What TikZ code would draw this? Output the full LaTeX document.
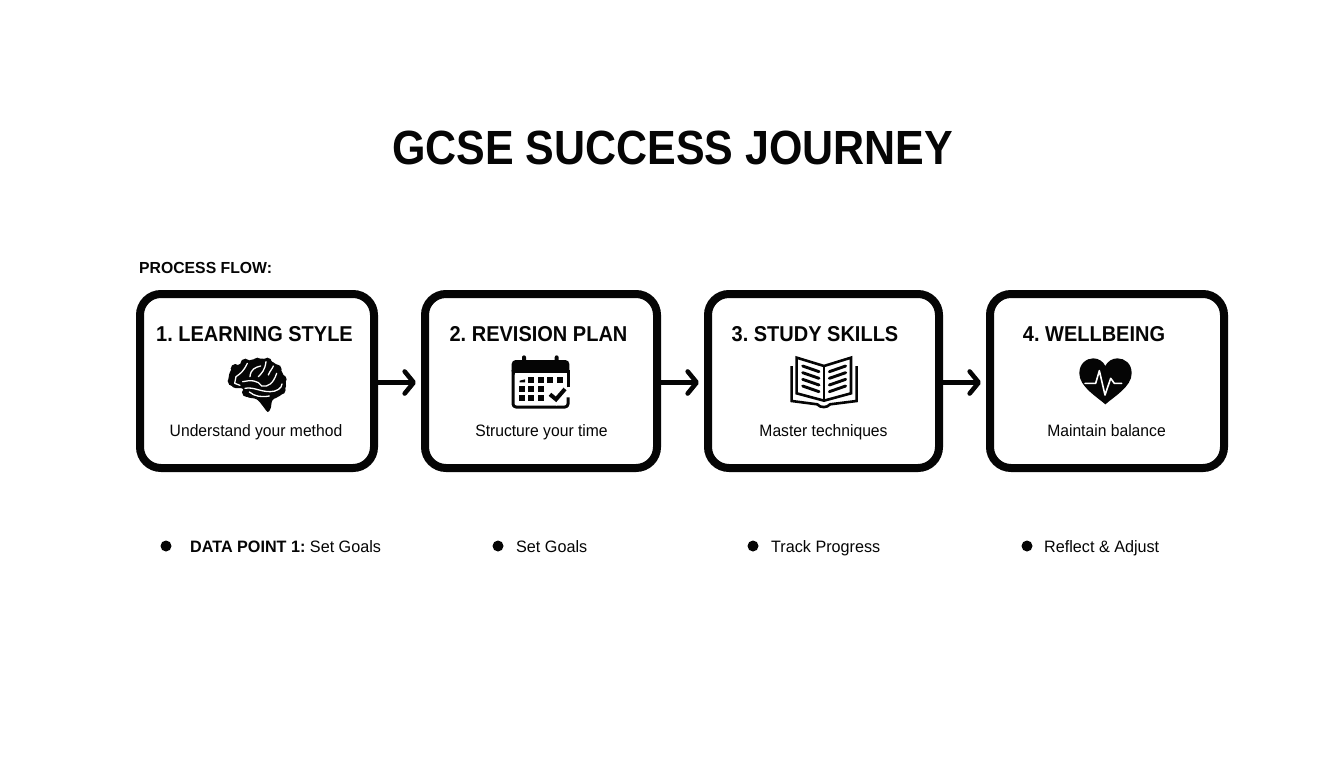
\documentclass[tikz,border=0pt]{standalone}
\usepackage{fontspec}
\setmainfont{Liberation Sans}
\newfontfamily\titlefam[FakeStretch=0.895]{Liberation Sans}
\newfontfamily\headfam[FakeStretch=0.93]{Liberation Sans}
\newfontfamily\subfam[FakeStretch=0.95]{Liberation Sans}
\newfontfamily\pointfam[FakeStretch=0.98]{Liberation Sans}
\newfontfamily\flowfam[FakeStretch=0.985]{Liberation Sans}
\usetikzlibrary{arrows.meta}
\definecolor{ink}{HTML}{050505}
\tikzset{
  card/.style={draw=ink,line width=8pt,rounded corners=21pt,fill=white,minimum height=174pt,inner sep=0pt},
  flow/.style={draw=ink,line width=4.6pt,shorten >=5pt,-{Straight Barb[round,length=9pt,width=22pt,line width=4.6pt]}},
  headtext/.style={font=\headfam\bfseries\frenchspacing\fontsize{21.5pt}{24pt}\selectfont,text=ink,inner sep=0pt,anchor=base},
  subtext/.style={font=\subfam\fontsize{16.5pt}{20pt}\selectfont,text=ink,inner sep=0pt,anchor=base},
  dot/.style={circle,fill=ink,minimum size=11pt,inner sep=0pt},
  pointtext/.style={font=\pointfam\frenchspacing\fontsize{16.5pt}{20pt}\selectfont,text=ink,inner sep=0pt,anchor=base west},
  icon/.style={fill=ink,draw=none},
  vein/.style={draw=white,line width=1.3pt,line cap=round,line join=round},
  bookline/.style={draw=ink,line width=2.6pt,line join=miter},
  bookrule/.style={draw=ink,line width=2.9pt,line cap=round},
}
\begin{document}
\begin{tikzpicture}[x=1pt,y=-1pt]
\useasboundingbox[fill=white] (0,0) rectangle (1344,768);
\node[font=\titlefam\bfseries\fontsize{48pt}{54pt}\selectfont,text=ink,inner sep=0pt,anchor=base] (title) at (672.5,164) {GCSE SUCCESS JOURNEY};
\node[font=\flowfam\bfseries\fontsize{16pt}{19pt}\selectfont,text=ink,inner sep=0pt,anchor=base west] (flowlabel) at (139,273.5) {PROCESS FLOW:};

\node[card,minimum width=234pt] (b1) at (257,381) {};
\node[card,minimum width=232pt] (b2) at (541,381) {};
\node[card,minimum width=231pt] (b3) at (823.5,381) {};
\node[card,minimum width=234pt] (b4) at (1107,381) {};

\draw[flow] ([yshift=-1.5pt]b1.east) -- ([yshift=-1.5pt]b2.west);
\draw[flow] ([yshift=-1.5pt]b2.east) -- ([yshift=-1.5pt]b3.west);
\draw[flow] ([yshift=-1.5pt]b3.east) -- ([yshift=-1.5pt]b4.west);

\node[headtext] (h1) at (254.5,341.5) {1. LEARNING STYLE};
\node[headtext] (h2) at (538.5,341.5) {2. REVISION PLAN};
\node[headtext] (h3) at (815,341.5) {3. STUDY SKILLS};
\node[headtext] (h4) at (1094,341.5) {4. WELLBEING};

\node[subtext] (s1) at (256,436) {Understand your method};
\node[subtext] (s2) at (541.5,436) {Structure your time};
\node[subtext] (s3) at (823.5,436) {Master techniques};
\node[subtext] (s4) at (1106.5,436) {Maintain balance};

\node[dot] (d1) at (166,546) {};
\node[dot] (d2) at (498,546) {};
\node[dot] (d3) at (753,546) {};
\node[dot] (d4) at (1027,546) {};
\node[pointtext] (p1) at (190,552.5) {\textbf{DATA POINT 1:} Set Goals};
\node[pointtext] (p2) at (516,552.5) {Set Goals};
\node[pointtext] (p3) at (771,552.5) {Track Progress};
\node[pointtext] (p4) at (1044,552.5) {Reflect \& Adjust};

% brain
\begin{scope}[shift={(130,280)},scale=1/3]
\fill[icon] plot[smooth cycle,tension=.6] coordinates {(296,296) (306,266) (335,250) (370,238) (405,237) (440,254) (460,284) (468,318) (452,346) (428,360) (422,385) (413,396) (400,380) (380,358) (350,350) (338,326) (310,322)};
\foreach \cx/\cy/\rr in {316/266/14, 346/251/15, 382/246/13, 412/247/14, 440/268/15, 456/298/14, 453/330/14, 309/303/16, 350/337/14, 390/346/13}
  \fill[icon] (\cx,\cy) circle[radius=\rr pt];
\draw[vein] (318,290) .. controls (332,280) and (340,275) .. (352,250);
\draw[vein] (318,290) -- (314,310) -- (330,316);
\draw[vein] (360,290) .. controls (362,268) and (375,262) .. (392,258);
\draw[vein] (385,290) .. controls (395,280) and (405,270) .. (408,245);
\draw[vein] (415,285) .. controls (420,272) and (428,265) .. (430,258);
\draw[vein] (338,305) .. controls (360,300) and (385,300) .. (395,318);
\draw[vein] (395,318) .. controls (415,322) and (430,310) .. (440,280);
\draw[vein] (345,325) .. controls (370,320) and (390,335) .. (420,335);
\draw[vein] (420,335) .. controls (440,335) and (455,325) .. (456,312);
\draw[vein] (358,336) .. controls (375,350) and (395,352) .. (418,348);
\end{scope}

% calendar
\begin{scope}[shift={(410,280)},scale=1/3]
\fill[icon,rounded corners=4pt] (305,285) -- (305,240) -- (478,240) -- (478,285) -- cycle;
\fill[icon,rounded corners=2pt] (336,226) rectangle (348,250);
\fill[icon,rounded corners=2pt] (434,226) rectangle (446,250);
\fill[white] (314,280) rectangle (470,290);
\draw[ink,line width=3pt,line join=round,rounded corners=3pt] (309,270) -- (309,381) -- (474,381) -- (474,352);
\draw[ink,line width=3pt] (474,322) -- (474,270);
\foreach \xx in {355,383,411,440} \fill[icon] (\xx,290) rectangle ++(18,18);
\foreach \xx in {327,355,383} {
  \fill[icon] (\xx,318) rectangle ++(18,18);
  \fill[icon] (\xx,346) rectangle ++(18,18);
}
\fill[icon] (329,307) -- (329,302) -- (345,298) -- (345,307) -- cycle;
\draw[white,line width=7pt] (416,345) -- (438,362) -- (468,325);
\draw[ink,line width=4pt] (420,343) -- (438,358) -- (465,327);
\end{scope}

% book
\begin{scope}[shift={(700,280)},scale=1/3]
\draw[bookline] (372,258) -- (290,233) -- (290,340) -- (372,362) -- (453,340) -- (453,233) -- cycle;
\draw[bookline] (372,258) -- (372,362);
\draw[bookline] (275,258) -- (275,363) -- (352,373) .. controls (360,384) and (382,384) .. (390,373) -- (470,363) -- (470,258);
\foreach \yy in {258,278,298,318} {
  \draw[bookrule] (308,\yy) -- (357,\yy+17);
  \draw[bookrule] (437,\yy) -- (388,\yy+17);
}
\end{scope}

% heart
\begin{scope}[shift={(980,280)},scale=1/3]
\fill[icon] (376,373) .. controls (350,350) and (298,320) .. (298,280) .. controls (298,250) and (320,235) .. (340,235) .. controls (356,235) and (370,245) .. (376,258) .. controls (382,245) and (396,235) .. (412,235) .. controls (434,235) and (455,250) .. (455,280) .. controls (455,320) and (402,350) .. (376,373) -- cycle;
\draw[white,line width=1.6pt,line join=round,line cap=round] (315,310) -- (347,310) -- (358,272) -- (375,345) -- (392,295) -- (403,310) -- (425,310);
\end{scope}
\end{tikzpicture}
\end{document}
